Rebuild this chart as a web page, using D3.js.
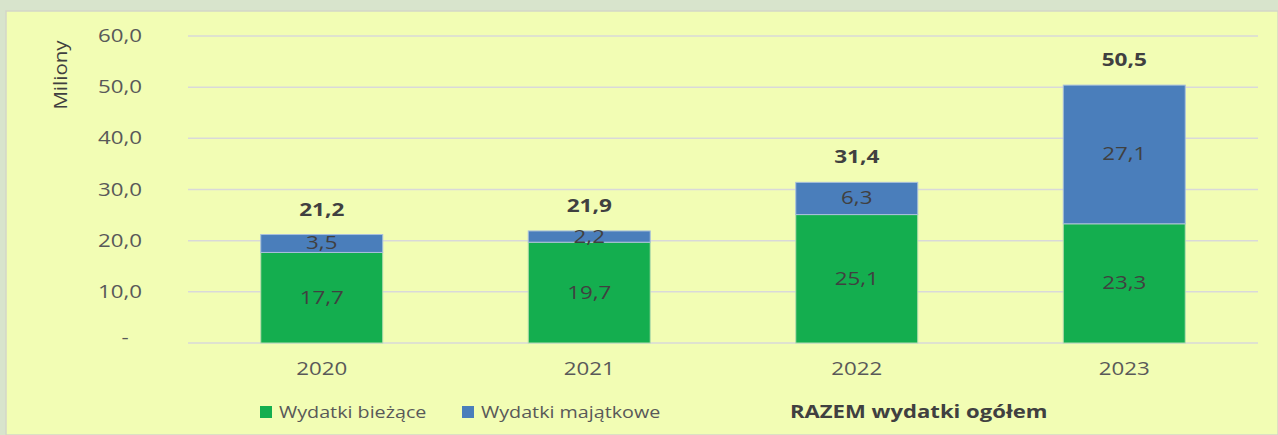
<!DOCTYPE html>
<html><head><meta charset="utf-8">
<script src="https://cdn.jsdelivr.net/npm/d3@7/dist/d3.min.js"></script>
<style>
html,body{margin:0;padding:0;background:#d8e4cc;}
svg{display:block;font-family:"Open Sans",sans-serif;}
</style></head>
<body>
<svg id="chart" width="1278" height="435"></svg>
<script>
const categories = ["2020", "2021", "2022", "2023"];
const biezace = [17.7, 19.7, 25.1, 23.3];
const majatkowe = [3.5, 2.2, 6.3, 27.1];
const totals = [21.2, 21.9, 31.4, 50.5];
const yTicks = [0, 10, 20, 30, 40, 50, 60];
const seriesNames = ["Wydatki bieżące", "Wydatki majątkowe", "RAZEM wydatki ogółem"];
const yTitle = "Miliony";

const fmt = v => v === 0 ? "-" : v.toFixed(1).replace(".", ",");
const svg = d3.select("#chart");

svg.append("rect").attr("x", 6).attr("y", 11).attr("width", 1272).attr("height", 424)
  .attr("fill", "#f2fdb4").attr("stroke", "#d3d6c8").attr("stroke-width", 1.5);

const x = d3.scaleBand().domain(categories).range([188, 1258]).paddingInner(0.544).paddingOuter(0.272);
const y = d3.scaleLinear().domain([0, 60]).range([343, 36]);

function txt(g, px, py, s, opts) {
  const sx = opts.sx || 1.24;
  return g.append("text")
    .attr("transform", `translate(${px},${py}) scale(${sx},1)`)
    .attr("text-anchor", opts.anchor || "middle")
    .attr("font-size", opts.size || 18)
    .attr("font-weight", opts.weight || "normal")
    .attr("fill", opts.fill || "#595959")
    .text(s);
}

// gridlines
svg.append("g").selectAll("line").data(yTicks).join("line")
  .attr("x1", 188).attr("x2", 1258)
  .attr("y1", d => y(d)).attr("y2", d => y(d))
  .attr("stroke", "#d9d9d9").attr("stroke-width", 1.5);

// y tick labels
const yg = svg.append("g");
yTicks.forEach(d => {
  if (d === 0) txt(yg, 125, y(d) + 1, fmt(d), {anchor: "middle"});
  else txt(yg, 142, y(d) + 6, fmt(d), {anchor: "end"});
});

// y title
svg.append("text").attr("transform", `translate(67,75) rotate(-90) scale(1.08,1)`)
  .attr("text-anchor", "middle").attr("font-size", 19).attr("fill", "#404040").text(yTitle);

// bars
const gb = svg.append("g");
gb.selectAll("rect.b").data(categories).join("rect").attr("class", "b")
  .attr("x", d => x(d)).attr("width", x.bandwidth())
  .attr("y", (d, i) => y(biezace[i])).attr("height", (d, i) => y(0) - y(biezace[i]))
  .attr("fill", "#14ae4f").attr("stroke", "#b8dcae").attr("stroke-width", 1);
gb.selectAll("rect.m").data(categories).join("rect").attr("class", "m")
  .attr("x", d => x(d)).attr("width", x.bandwidth())
  .attr("y", (d, i) => y(biezace[i] + majatkowe[i])).attr("height", (d, i) => y(biezace[i]) - y(biezace[i] + majatkowe[i]))
  .attr("fill", "#4a7ebb").attr("stroke", "#a9c0dc").attr("stroke-width", 1);

// labels
const gl = svg.append("g");
categories.forEach((c, i) => {
  const cx = x(c) + x.bandwidth() / 2;
  txt(gl, cx, y(biezace[i] / 2) + 6, fmt(biezace[i]), {fill: "#404040"});
  txt(gl, cx, y(biezace[i] + majatkowe[i] / 2) + 6, fmt(majatkowe[i]), {fill: "#404040"});
  txt(gl, cx, y(totals[i]) - 19, fmt(totals[i]), {size: 17, sx: 1.33, weight: "bold", fill: "#404040"});
  txt(gl, cx, 375, c, {});
});

// legend
const lg = svg.append("g");
lg.append("rect").attr("x", 260).attr("y", 406).attr("width", 12).attr("height", 12).attr("fill", "#14ae4f");
txt(lg, 279, 418, seriesNames[0], {anchor: "start", size: 17, sx: 1.16});
lg.append("rect").attr("x", 462).attr("y", 406).attr("width", 12).attr("height", 12).attr("fill", "#4a7ebb");
txt(lg, 481, 418, seriesNames[1], {anchor: "start", size: 17, sx: 1.16});
txt(lg, 790, 418, seriesNames[2], {anchor: "start", size: 17, sx: 1.3, weight: "bold", fill: "#404040"});
</script>
</body></html>
